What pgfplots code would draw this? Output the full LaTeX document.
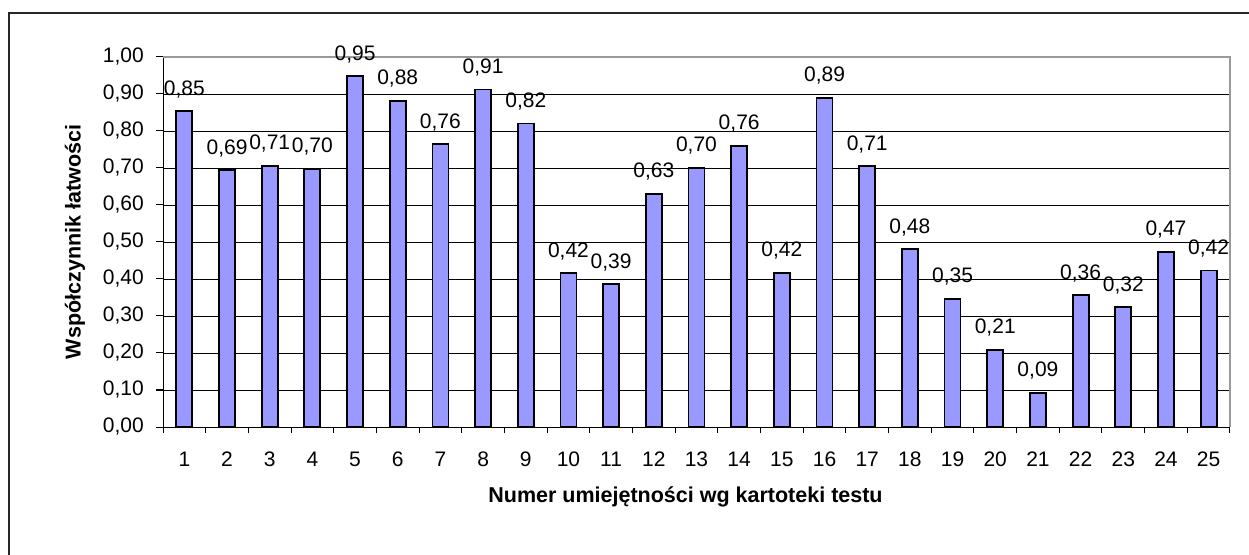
\documentclass[border=0pt]{standalone}
\usepackage{pgfplots}
\pgfplotsset{compat=1.18}
\usepackage{pgfplotstable}
\usepackage{fontspec}
\setmainfont{Liberation Sans}
\definecolor{barfill}{HTML}{9999FF}
\pgfplotstableread{
x y lab
1 0.853 0,85
2 0.694 0,69
3 0.706 0,71
4 0.698 0,70
5 0.948 0,95
6 0.882 0,88
7 0.764 0,76
8 0.912 0,91
9 0.820 0,82
10 0.416 0,42
11 0.386 0,39
12 0.630 0,63
13 0.700 0,70
14 0.760 0,76
15 0.417 0,42
16 0.890 0,89
17 0.705 0,71
18 0.480 0,48
19 0.346 0,35
20 0.209 0,21
21 0.092 0,09
22 0.356 0,36
23 0.324 0,32
24 0.474 0,47
25 0.423 0,42
}\datatable
\begin{document}
\begin{tikzpicture}
\useasboundingbox (0,0) rectangle (1249pt,554pt);
\fill[white] (0,0) rectangle (1249pt,554pt);
\draw[line width=1.3pt, black!85] (9pt,-20pt) |- (1270pt,541pt);
\begin{axis}[
  at={(163pt,127pt)}, anchor=south west,
  scale only axis, width=1067pt, height=370pt,
  xmin=0.5, xmax=25.5, ymin=0, ymax=1,
  axis x line*=bottom, axis y line*=left,
  axis line style={black, line width=1pt, -},
  ybar, bar width=16pt,
  xtick={1,...,25},
  major x tick style={draw=none},
  minor xtick={0.5,1.5,...,25.5},
  minor tick length=6pt,
  minor x tick style={black, line width=1pt},
  ytick={0,0.1,...,1.01},
  major tick length=7pt,
  tick align=outside,
  ytick style={black, line width=1pt},
  ymajorgrids, grid style={black, line width=0.9pt},
  /pgf/number format/assume math mode=true,
  ticklabel style={font=\fontsize{21}{25}\selectfont},
  yticklabel style={inner sep=0pt, xshift=-12pt,
    /pgf/number format/fixed, /pgf/number format/fixed zerofill,
    /pgf/number format/precision=2, /pgf/number format/use comma},
  xticklabel style={inner sep=0pt, yshift=-18pt},
  nodes near coords={\pgfplotspointmeta},
  point meta=explicit symbolic,
  every node near coord/.append style={font=\fontsize{21}{25}\selectfont, anchor=base, inner sep=0pt, yshift=16pt},
  clip=false,
]
\addplot[fill=barfill, draw=black, line width=1.8pt] table[x=x, y=y, meta=lab] {\datatable};
\draw[gray!80, line width=2pt] (axis cs:0.5,1) -- (axis cs:25.5,1) -- (axis cs:25.5,0);
\end{axis}
\node[font=\fontsize{21.5}{25}\selectfont\bfseries, anchor=base, inner sep=0pt] at (685.5pt,51.3pt) {Numer umiejętności wg kartoteki testu};
\node[font=\fontsize{21.5}{25}\selectfont\bfseries, rotate=90] at (75pt,312pt) {Współczynnik łatwości};
\end{tikzpicture}
\end{document}
